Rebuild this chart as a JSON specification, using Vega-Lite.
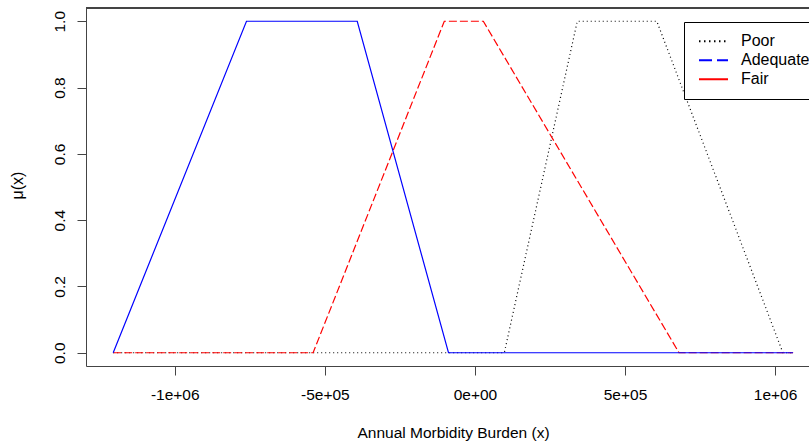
{
  "$schema": "https://vega.github.io/schema/vega-lite/v6.json",
  "width": 723,
  "height": 358,
  "autosize": {"type": "none"},
  "padding": {"left": 86, "top": 8, "right": 0, "bottom": 79},
  "background": "white",
  "config": {
    "view": {"stroke": null},
    "font": "Liberation Sans",
    "axis": {"grid": false, "labelFont": "Liberation Sans", "titleFont": "Liberation Sans", "labelColor": "black", "titleColor": "black", "domainColor": "#444", "tickColor": "#444", "labelFontSize": 15.5, "titleFontSize": 15.5, "titleFontWeight": "normal"}
  },
  "data": {
    "values": [
      {"series": "Poor", "x": -1205000, "mu": 0},
      {"series": "Poor", "x": 98000, "mu": 0},
      {"series": "Poor", "x": 341000, "mu": 1},
      {"series": "Poor", "x": 606000, "mu": 1},
      {"series": "Poor", "x": 1026000, "mu": 0},
      {"series": "Poor", "x": 1060000, "mu": 0},
      {"series": "Fair", "x": -1205000, "mu": 0},
      {"series": "Fair", "x": -539000, "mu": 0},
      {"series": "Fair", "x": -102000, "mu": 1},
      {"series": "Fair", "x": 28000, "mu": 1},
      {"series": "Fair", "x": 680000, "mu": 0},
      {"series": "Fair", "x": 1060000, "mu": 0},
      {"series": "Adequate", "x": -1205000, "mu": 0},
      {"series": "Adequate", "x": -761000, "mu": 1},
      {"series": "Adequate", "x": -392000, "mu": 1},
      {"series": "Adequate", "x": -88000, "mu": 0},
      {"series": "Adequate", "x": 1060000, "mu": 0}
    ]
  },
  "layer": [
    {
      "transform": [{"filter": "datum.x == -1205000"}],
      "mark": {"type": "line", "strokeWidth": 2, "clip": true},
      "encoding": {
        "x": {"field": "x", "type": "quantitative"},
        "y": {"field": "mu", "type": "quantitative"},
        "color": {
          "field": "series", "type": "nominal",
          "scale": {"domain": ["Poor", "Adequate", "Fair"], "range": ["black", "blue", "red"]},
          "legend": {
            "title": null, "orient": "none", "legendX": 598, "legendY": 14,
            "padding": 10, "clipHeight": 18.3, "rowPadding": 0,
            "symbolType": "stroke", "symbolSize": 841, "symbolStrokeWidth": 2,
            "labelFont": "Liberation Sans", "labelFontSize": 16, "labelColor": "black",
            "strokeColor": "black", "fillColor": "white", "labelOffset": 12, "symbolOffset": 4
          }
        },
        "strokeDash": {
          "field": "series", "type": "nominal",
          "scale": {"domain": ["Poor", "Adequate", "Fair"], "range": [[1.5, 3.5], [13, 5], [1, 0]]}
        }
      }
    },
    {
      "transform": [{"filter": "datum.series == 'Poor'"}],
      "mark": {"type": "line", "strokeWidth": 1.2, "strokeDash": [1, 3], "clip": true},
      "encoding": {
        "x": {
          "field": "x", "type": "quantitative",
          "scale": {"domain": [-1295600, 1113000], "nice": false, "zero": false},
          "axis": {
            "values": [-1000000, -500000, 0, 500000, 1000000],
            "labelExpr": "datum.value == -1000000 ? '-1e+06' : datum.value == -500000 ? '-5e+05' : datum.value == 0 ? '0e+00' : datum.value == 500000 ? '5e+05' : '1e+06'",
            "tickSize": 9, "labelPadding": 24, "labelBaseline": "alphabetic", "labelFlush": false, "labelOverlap": false,
            "title": "Annual Morbidity Burden (x)", "titleX": 367, "titleY": 71, "titleBaseline": "alphabetic", "titleAlign": "center"
          }
        },
        "y": {
          "field": "mu", "type": "quantitative",
          "scale": {"domain": [-0.04, 1.04], "nice": false, "zero": false},
          "axis": {
            "values": [0, 0.2, 0.4, 0.6, 0.8, 1.0], "format": ".1f",
            "tickSize": 9, "labelAngle": 270, "labelAlign": "center", "labelBaseline": "alphabetic", "labelPadding": 13,
            "title": "μ(x)", "titleAngle": 270, "titleX": -64, "titleY": 177, "titleAlign": "center", "titleBaseline": "alphabetic", "titleFontSize": 16
          }
        },
        "color": {"field": "series", "type": "nominal", "legend": null},
        "order": {"field": "x", "type": "quantitative"}
      }
    },
    {
      "transform": [{"filter": "datum.series == 'Fair'"}],
      "mark": {"type": "line", "strokeWidth": 1.2, "strokeDash": [8, 3], "clip": true},
      "encoding": {
        "x": {"field": "x", "type": "quantitative"},
        "y": {"field": "mu", "type": "quantitative"},
        "color": {"field": "series", "type": "nominal", "legend": null},
        "order": {"field": "x", "type": "quantitative"}
      }
    },
    {
      "transform": [{"filter": "datum.series == 'Adequate'"}],
      "mark": {"type": "line", "strokeWidth": 1.2, "clip": true},
      "encoding": {
        "x": {"field": "x", "type": "quantitative"},
        "y": {"field": "mu", "type": "quantitative"},
        "color": {"field": "series", "type": "nominal", "legend": null},
        "order": {"field": "x", "type": "quantitative"}
      }
    },
    {
      "mark": {"type": "rule", "color": "#444", "strokeWidth": 1},
      "encoding": {"y": {"datum": 1.04}}
    }
  ]
}
